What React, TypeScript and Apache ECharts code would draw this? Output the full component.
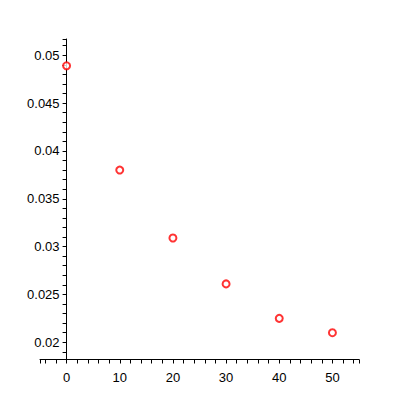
import React, { useEffect, useRef } from "react";
import * as echarts from "echarts";

const xValues = [0, 10, 20, 30, 40, 50];
const yValues = [0.0489, 0.038, 0.0309, 0.0261, 0.0225, 0.021];

const xLabelValues = [0, 10, 20, 30, 40, 50];
const xTickValues = [-5, -4, -2, 0, 2, 4, 6, 8, 10, 12, 14, 16, 18, 20, 22, 24, 26, 28, 30, 32, 34, 36, 38, 40, 42, 44, 46, 48, 50, 52, 54, 55];
const yLabelValues = [0.02, 0.025, 0.03, 0.035, 0.04, 0.045, 0.05];
const yTickValues = [0.019, 0.02, 0.021, 0.022, 0.023, 0.024, 0.025, 0.026, 0.027, 0.028, 0.029, 0.03, 0.031, 0.032, 0.033, 0.034, 0.035, 0.036, 0.037, 0.038, 0.039, 0.04, 0.041, 0.042, 0.043, 0.044, 0.045, 0.046, 0.047, 0.048, 0.049, 0.05, 0.051, 0.0517];

const X_MIN = -5;
const X_MAX = 55;
const Y_MIN = 0.0182;
const Y_MAX = 0.0517;

const GRID_LEFT = 40;
const GRID_RIGHT = 41;

export default function App() {
  const ref = useRef<HTMLDivElement>(null);
  useEffect(() => {
    if (!ref.current) return;
    const chart = echarts.init(ref.current, null, { renderer: "svg" });
    const font = { fontFamily: "Liberation Sans, Arial, sans-serif", fontSize: 13, color: "#000" };
    const plotWidth = 400 - GRID_LEFT - GRID_RIGHT;
    const zeroOffset = ((0 - X_MIN) / (X_MAX - X_MIN)) * plotWidth;
    chart.setOption({
      animation: false,
      backgroundColor: "#fff",
      grid: { left: GRID_LEFT, right: GRID_RIGHT, top: 39, bottom: 40.5, containLabel: false },
      xAxis: {
        type: "value",
        min: X_MIN,
        max: X_MAX,
        splitLine: { show: false },
        axisLine: { show: true, onZero: false, lineStyle: { color: "#000", width: 1 } },
        axisTick: { show: true, length: 4, inside: false, customValues: xTickValues, lineStyle: { color: "#000" } },
        axisLabel: { ...font, margin: 11, customValues: xLabelValues, formatter: (v: number) => String(v) },
      },
      yAxis: {
        type: "value",
        min: Y_MIN,
        max: Y_MAX,
        offset: -zeroOffset,
        splitLine: { show: false },
        axisLine: { show: true, onZero: false, lineStyle: { color: "#000", width: 1 } },
        axisTick: { show: true, length: 4, inside: false, customValues: yTickValues, lineStyle: { color: "#000" } },
        axisLabel: { ...font, margin: 7, customValues: yLabelValues, formatter: (v: number) => String(Number(v.toFixed(4))) },
      },
      series: [
        {
          type: "scatter",
          data: xValues.map((x, i) => [x, yValues[i]]),
          symbol: "emptyCircle",
          symbolSize: 7,
          itemStyle: { color: "#ff0000", borderColor: "#ff0000", borderWidth: 1 },
        },
      ],
    });
    return () => chart.dispose();
  }, []);
  return <div ref={ref} style={{ position: "fixed", left: 0, top: 0, width: 400, height: 400 }} />;
}
